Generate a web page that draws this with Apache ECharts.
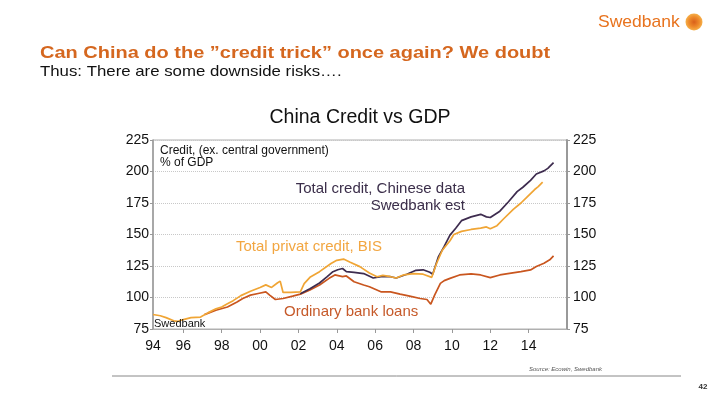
<!DOCTYPE html>
<html>
<head>
<meta charset="utf-8">
<script src="https://cdn.jsdelivr.net/npm/echarts@6/dist/echarts.min.js"></script>
<style>html,body{margin:0;padding:0;background:#fff;}#c{width:720px;height:405px;}</style>
</head>
<body>
<div id="c"></div>
<script>
// ---- data (year, % of GDP) ----
var bisCredit = [
  [1994.42,86.5],[1994.8,85.5],[1995.1,84.0],[1995.5,81.5],[1995.7,81.0],[1996.0,82.5],[1996.4,84.0],
  [1996.9,84.5],[1997.3,88.0],[1997.7,91.0],[1998.0,92.5],[1998.3,95.0],[1998.6,97.5],[1999.0,101.5],
  [1999.5,105.0],[2000.0,108.0],[2000.3,110.0],[2000.6,108.0],[2000.9,111.5],[2001.05,113.0],[2001.2,104.0],
  [2001.6,104.0],[2002.1,104.5],[2002.3,111.0],[2002.6,116.0],[2003.1,120.5],[2003.7,127.0],[2004.0,129.5],
  [2004.35,130.5],[2004.7,128.0],[2005.2,124.5],[2005.7,119.5],[2006.1,116.5],[2006.4,117.5],[2006.8,116.5],
  [2007.1,115.5],[2007.5,118.0],[2008.0,119.0],[2008.5,118.5],[2008.95,116.0],[2009.2,127.0],[2009.5,137.5],
  [2009.9,145.0],[2010.1,150.0],[2010.5,152.5],[2011.0,154.0],[2011.5,155.0],[2011.8,156.0],[2012.0,154.5],
  [2012.35,157.0],[2012.7,162.5],[2013.2,170.0],[2013.6,175.0],[2013.9,179.5],[2014.3,185.5],[2014.5,188.0],
  [2014.73,191.5]
];
var totalCredit = [
  [2002.1,103.0],[2002.6,107.0],[2003.1,111.5],[2003.5,116.5],[2003.8,120.5],[2004.05,122.0],[2004.3,123.0],
  [2004.5,120.5],[2004.9,120.0],[2005.4,119.0],[2005.9,115.5],[2006.3,116.5],[2006.8,116.5],[2007.1,115.5],
  [2007.65,118.5],[2008.1,121.5],[2008.5,122.0],[2008.85,120.0],[2009.0,118.5],[2009.3,132.5],[2009.6,140.5],
  [2009.9,149.5],[2010.2,155.0],[2010.5,161.0],[2011.0,164.0],[2011.5,166.0],[2011.8,164.0],[2012.0,163.5],
  [2012.5,168.5],[2012.95,176.0],[2013.4,184.0],[2013.7,187.5],[2014.1,193.0],[2014.4,198.0],[2014.8,200.5],
  [2015.0,202.5],[2015.3,207.0]
];
var bankLoans = [
  [1997.1,86.4],[1997.7,89.9],[1998.3,92.5],[1998.8,96.5],[1999.1,99.2],[1999.5,101.9],[1999.9,103.2],
  [2000.3,104.5],[2000.5,101.9],[2000.8,98.4],[2001.2,99.2],[2001.7,101.1],[2002.1,102.7],[2002.6,105.9],
  [2003.1,109.9],[2003.6,115.2],[2003.9,117.9],[2004.3,116.6],[2004.5,117.1],[2004.9,112.5],[2005.4,109.9],
  [2005.7,108.5],[2006.3,104.5],[2006.8,104.5],[2007.3,102.7],[2007.8,101.1],[2008.35,99.2],[2008.7,98.4],
  [2008.9,94.7],[2009.1,101.9],[2009.4,111.2],[2009.6,113.4],[2009.9,115.2],[2010.4,117.9],[2011.0,118.7],
  [2011.5,117.9],[2012.0,115.8],[2012.5,117.9],[2013.0,119.2],[2013.6,120.6],[2014.1,121.9],[2014.4,124.6],
  [2014.8,127.2],[2015.1,129.9],[2015.3,133.1]
];
var xTickYears = [1996,1998,2000,2002,2004,2006,2008,2010,2012,2014];
var xLabelYears = [1994.42,1996,1998,2000,2002,2004,2006,2008,2010,2012,2014];

var FONT = 'Liberation Sans, Arial, sans-serif';
var chart = echarts.init(document.getElementById('c'), null, {renderer:'canvas'});

function txt(x, y, s, size, color, opts) {
  opts = opts || {};
  return {type:'text', x:x, y:y, z:10, silent:true, scaleX:opts.sx||1, originX:0, originY:0,
    style:{text:s, fontFamily:FONT, fontSize:size, fill:color, fontWeight:opts.bold?'bold':'normal',
      fontStyle:opts.italic?'italic':'normal', align:opts.align||'left', verticalAlign:'middle'}};
}

chart.setOption({
  animation:false,
  backgroundColor:'#fff',
  grid:{left:153, right:153, top:140, bottom:76, show:true, borderColor:'#b0b0b0', borderWidth:1, containLabel:false},
  xAxis:{
    type:'value', min:1994.42, max:2016,
    axisLine:{show:true, lineStyle:{color:'#b0b0b0', width:1}},
    axisTick:{show:true, customValues:xTickYears, length:4, lineStyle:{color:'#999'}},
    splitLine:{show:false},
    axisLabel:{customValues:xLabelYears, margin:10, fontFamily:FONT, fontSize:14, color:'#111',
      formatter:function(v){var y=Math.round(v)%100; return (y<10?'0':'')+y;}}
  },
  yAxis:[{
    type:'value', min:75, max:225, interval:25, position:'left',
    axisLine:{show:true, lineStyle:{color:'#999', width:1.5}},
    axisTick:{show:true, length:3, lineStyle:{color:'#999'}},
    splitLine:{show:true, lineStyle:{color:'#c8c8c8', type:'dotted', width:1}},
    axisLabel:{margin:4, fontFamily:FONT, fontSize:14, color:'#111'}
  },{
    type:'value', min:75, max:225, interval:25, position:'right',
    axisLine:{show:true, lineStyle:{color:'#999', width:2}},
    axisTick:{show:true, length:3, lineStyle:{color:'#999'}},
    splitLine:{show:false},
    axisLabel:{margin:6, fontFamily:FONT, fontSize:14, color:'#111'}
  }],
  series:[
    {name:'Ordinary bank loans', type:'line', data:bankLoans, showSymbol:false, lineStyle:{color:'#C9561F', width:1.7}, itemStyle:{color:'#C9561F'}},
    {name:'Total credit, Chinese data', type:'line', data:totalCredit, showSymbol:false, lineStyle:{color:'#3E2C4F', width:1.7}, itemStyle:{color:'#3E2C4F'}},
    {name:'Total privat credit, BIS', type:'line', data:bisCredit, showSymbol:false, lineStyle:{color:'#F0A535', width:1.7}, itemStyle:{color:'#F0A535'}}
  ],
  graphic:[
    txt(598, 22, 'Swedbank', 17, '#E8731E', {sx:1.03}),
    {type:'circle', shape:{cx:694, cy:22, r:8.5}, silent:true,
      style:{fill:{type:'radial', x:0.5, y:0.5, r:0.5, colorStops:[{offset:0, color:'#D9601A'},{offset:0.6, color:'#EE8A2A'},{offset:1, color:'#F6B04A'}]}}},
    txt(40, 53, 'Can China do the \u201dcredit trick\u201d once again? We doubt', 17, '#D5671F', {bold:true, sx:1.175}),
    txt(40, 72, 'Thus: There are some downside risks\u2026.', 15, '#111', {sx:1.12}),
    txt(360, 118, 'China Credit vs GDP', 19.5, '#111', {align:'center'}),
    txt(160, 151, 'Credit, (ex. central government)', 12, '#111'),
    txt(160, 162.5, '% of GDP', 12, '#111'),
    txt(465, 189, 'Total credit, Chinese data', 15, '#3B2E4A', {align:'right'}),
    txt(465, 206, 'Swedbank est', 15, '#3B2E4A', {align:'right'}),
    txt(236, 247, 'Total privat credit, BIS', 15, '#F2A641'),
    txt(284, 311.5, 'Ordinary bank loans', 15, '#C65A2A'),
    txt(154, 324, 'Swedbank', 11, '#111'),
    txt(529, 369, 'Source: Ecowin, Swedbank', 6, '#555', {italic:true}),
    {type:'line', shape:{x1:112, y1:376, x2:681, y2:376}, style:{stroke:'#888', lineWidth:1}, silent:true},
    txt(703, 387, '42', 8, '#333', {align:'center', bold:true})
  ]
});
</script>
</body>
</html>
